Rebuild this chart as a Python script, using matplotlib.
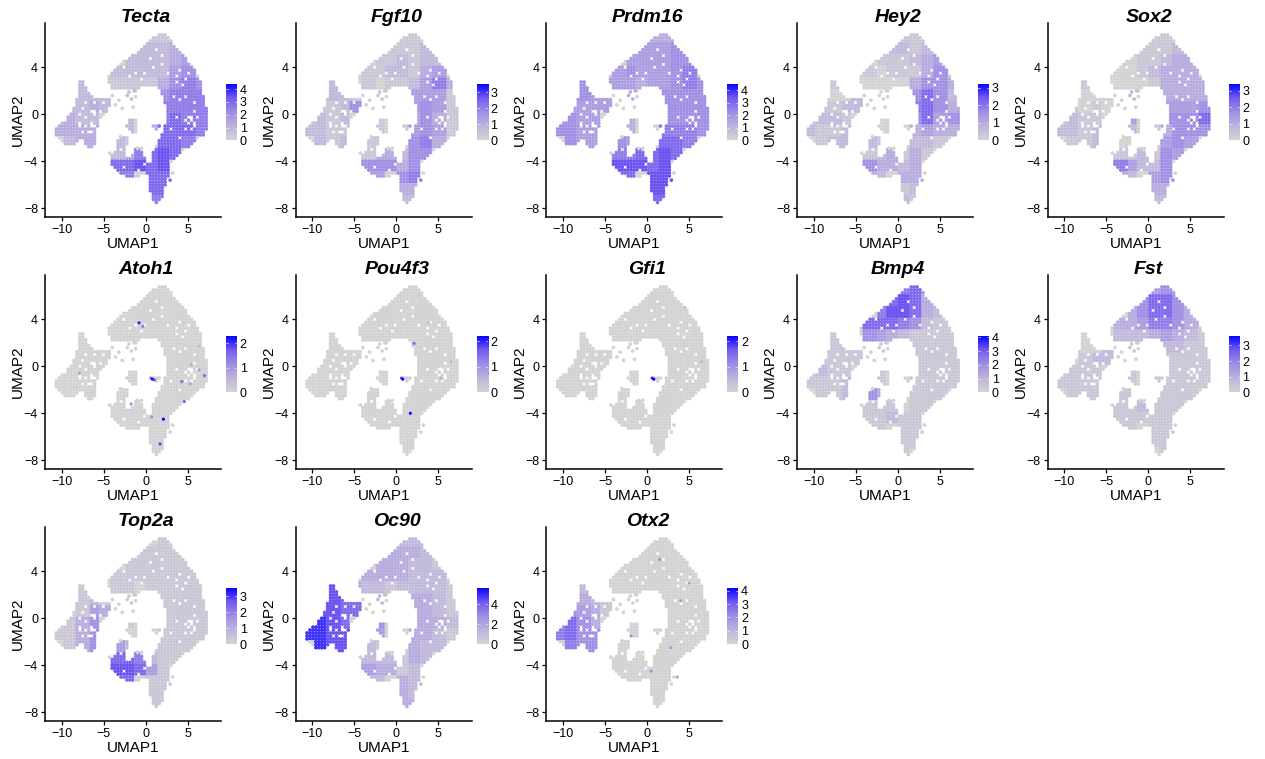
import matplotlib
matplotlib.use("Agg")
import matplotlib.pyplot as plt
import numpy as np
from matplotlib.colors import LinearSegmentedColormap

plt.rcParams['font.family'] = ['Liberation Sans', 'DejaVu Sans']

W, H = 1265, 759

genes = ["Tecta", "Fgf10", "Prdm16", "Hey2", "Sox2",
         "Atoh1", "Pou4f3", "Gfi1", "Bmp4", "Fst",
         "Top2a", "Oc90", "Otx2"]
gene_max = [4.4, 3.5, 4.5, 3.2, 3.4, 2.3, 2.2, 2.2, 4.1, 3.6, 3.5, 5.6, 4.2]
gene_ticks = [[0, 1, 2, 3, 4], [0, 1, 2, 3], [0, 1, 2, 3, 4], [0, 1, 2, 3], [0, 1, 2, 3],
              [0, 1, 2], [0, 1, 2], [0, 1, 2], [0, 1, 2, 3, 4], [0, 1, 2, 3],
              [0, 1, 2, 3], [0, 2, 4], [0, 1, 2, 3, 4]]

# cell map, one run-length row per 0.25 of UMAP2 from 6.75 down,
# columns are 0.35 of UMAP1 from -11, "." is empty
map_rows = [
    "36. 3#", "34. 6#", "33. 8#", "32. 9#", "31. 11#", "30. 13#", "29. 15#",
    "27. 18#", "26. 20#", "24. 22#", "23. 24#", "22. 26#",
    "21. 28#", "20. 29#", "19. 31#", "19. 31#",
    "9. 2# 8. 32#", "9. 2# 9. 31#", "9. 3# 8. 10# 6. 15#",
    "9. 3# 16. 1# 8. 14#", "9. 4# 24. 14#", "9. 5# 24. 14#",
    "8. 12# 18. 14#", "8. 6# 1. 2# 1. 2# 18. 14#", "8. 12# 19. 13#",
    "7. 12# 20. 14#", "7. 7# 1. 1# 1. 2# 20. 9# 1. 4#", "6. 12# 21. 14#",
    "5. 12# 22. 7# 1. 2# 1. 3#", "5. 11# 10. 3# 10. 14#",
    "3. 6# 1. 6# 10. 3# 10. 9# 1. 4#", "2. 11# 1. 2# 9. 4# 5. 3# 1. 15#",
    "1. 14# 11. 3# 6. 1# 2. 9# 1. 5#", "1. 14# 12. 2# 9. 14#",
    "1. 14# 22. 15#", "2. 13# 8. 3# 11. 13#", "3. 6# 2. 4# 7. 4# 10. 13#",
    "4. 4# 3. 4# 7. 4# 10. 12#", "12. 2# 8. 3# 10. 12#", "22. 3# 3. 2# 5. 10#",
    "21. 4# 3. 3# 3. 10#", "20. 5# 2. 4# 3. 9#", "20. 12# 2. 8#", "20. 12# 2. 7#",
    "20. 20#", "21. 19#", "22. 18#", "23. 17#", "25. 5# 3. 7#",
    "33. 6#", "33. 6#", "33. 6#", "33. 5#", "33. 5#", "34. 4#", "34. 4#", "34. 3#", "35. 1#",
]

# white gaps inside the cloud and stray cells around it
hole_x = [-8.0, -7.4, -7.0, -6.6, -6.2, -7.8, -7.1, -6.5, -6.0, -7.5, -6.8, -6.3, -7.2,
          4.6, 5.0, 5.5, 5.9, 4.9, 5.4, 3.6, 4.1, 4.6, 5.0, 3.8, 4.4, 3.4, 4.0, 4.7,
          -1.8, -1.2, -0.6, -0.1, -2.6, 0.4, 1.2, 2.0, 0.9, 1.8, 2.6,
          -2.5, -1.0, -0.2, -3.0, 4.0, 3.0, 3.6, 5.8]
hole_y = [0.0, 0.5, -0.2, 0.3, 0.0, -0.8, -0.9, -0.7, -0.9, -1.4, -1.5, -1.6, 0.9,
          -0.5, -0.8, -0.2, -0.9, -1.3, -0.4, 3.3, 3.7, 3.0, 3.4, 2.7, 2.5, 1.6, 1.2, 1.5,
          3.2, 3.4, 3.0, 3.5, 3.9, 4.8, 5.4, 5.0, 3.9, 4.2, 3.6,
          -4.5, -4.8, -4.2, -3.1, -2.0, -1.2, -0.3, 1.0]
stray_x = [-4.0, -3.2, -2.8, -3.6, -2.2, -1.7, -1.5, -1.4, -2.0, -1.2, -3.0, 3.2, 2.9, -4.3, -1.0, -0.5]
stray_y = [1.6, 1.2, 0.5, 0.8, 1.6, 1.3, 0.6, 2.0, 1.9, 1.5, -1.9, -5.0, -5.6, -3.3, -2.9, -2.9]

# expression tone per patch of the map, 0 grey to 9 blue. Patches are 1.4 wide from
# UMAP1 -11 (13 columns), 1 high from UMAP2 7 down (15 rows)
tones = {
    "Tecta": ["0000000011100", "0000000222300", "0000002222340", "0000022222450",
              "0020111113565", "0022202005666", "0223200006666", "2322002036766",
              "3333002037776", "0233021007760", "0000023678700", "0000077878000",
              "0000066077000", "0000000077000", "0000000066000"],
    "Fgf10": ["0000000011000", "0000000111200", "0000001121220", "0000011221340",
              "0020010112463", "0022101004441", "0112500004541", "1212001033531",
              "2211001014541", "0212011005630", "0000013325500", "0000055535000",
              "0000044056000", "0000000033000", "0000000022000"],
    "Prdm16": ["0000000033300", "0000000444500", "0000004444550", "0000045444560",
               "0050444344565", "0054403005555", "0444400005555", "4544003035555",
               "5544003006665", "0544054007760", "0000066778700", "0000088878000",
               "0000077088000", "0000000088000", "0000000077000"],
    "Hey2": ["0000000011100", "0000000221200", "0000001112340", "0000010111350",
             "0010000003553", "0000200005752", "0112200006753", "1221000005745",
             "2112000003433", "0122021002210", "0000012313100", "0000053323000",
             "0000032033000", "0000000012000", "0000000021000"],
    "Sox2": ["0000000011000", "0000000111200", "0000000112330", "0000000123330",
             "0010000013333", "0000002003333", "0101000004445", "1211004035557",
             "2212002013555", "0112000004540", "0000011215400", "0000064225000",
             "0000032045000", "0000000033000", "0000000022000"],
    "Bmp4": ["0000000067500", "0000000787300", "0000006887320", "0000077765210",
             "0010054321111", "0011101001111", "0111100001111", "1211001001111",
             "1112001001111", "0112053001110", "0000011101100", "0000011211000",
             "0000011011000", "0000000011000", "0000000010000"],
    "Fst": ["0000000045400", "0000000577500", "0000003577530", "0000033466530",
            "0000022234321", "0000201002211", "0012200001111", "1111001011111",
            "1111001011111", "0111011001110", "0000011211100", "0000011111000",
            "0000011011000", "0000000011000", "0000000001000"],
    "Top2a": ["0000000001000", "0000000111100", "0000001111110", "0000011111110",
              "0010011011111", "0012001001111", "0014300001111", "1135001011111",
              "1135000001111", "0135042001110", "0000077621100", "0000088741000",
              "0000077011000", "0000000011000", "0000000011000"],
    "Oc90": ["0000000022200", "0000000333200", "0000003332210", "0000033332220",
             "0080322122221", "0087702003321", "0887700003321", "9987005003332",
             "9988004003321", "0988021003220", "0000022213200", "0000043312000",
             "0000022032000", "0000000032000", "0000000033000"],
    "Otx2": ["0000000000000", "0000000000000", "0000000000000", "0000000000000",
             "0020000000000", "0032100000000", "0543100000000", "5753000000000",
             "6755000000000", "0655000000000", "0000000000000", "0000000000000",
             "0000000000000", "0000000000000", "0000000000000"],
}

# single cells: x, y, share of maximum
spot_x = {"Atoh1": [-0.8, -0.35, -7.9, -1.75, 0.7, 2.1, 1.7, 4.6, 4.3, 5.3, 6.35, 7.0, 5.4, 6.35, 0.6, 0.8, 1.0],
          "Pou4f3": [0.6, 0.75, 1.65, 2.1, 3.8, 5.3, 6.5],
          "Gfi1": [0.6, 0.8, 4.5, 6.5],
          "Otx2": [1.5, 4.0, -1.9, 2.8, 5.0, 0.5, 3.6]}
spot_y = {"Atoh1": [3.7, 3.4, -0.6, -3.2, -4.3, -4.5, -6.6, -3.0, -1.3, -1.5, -0.3, -0.8, 0.15, 1.7, -1.0, -1.1, -1.15],
          "Pou4f3": [-1.0, -1.1, -4.0, 1.95, 3.7, -1.0, 0.4],
          "Gfi1": [-1.0, -1.1, 5.0, 0.4],
          "Otx2": [5.0, 1.5, -1.5, -2.5, 3.0, -4.5, -5.0]}
spot_v = {"Atoh1": [.9, .6, .4, .5, .5, 1.0, .8, .7, .7, .4, .4, .7, .3, .2, .7, 1.0, .8],
          "Pou4f3": [.8, 1.0, 1.0, .7, .2, .3, .2],
          "Gfi1": [.9, 1.0, .2, .2],
          "Otx2": [.5, .4, .5, .4, .4, .5, .4]}

cmap = LinearSegmentedColormap.from_list(
    "feat", ["#d3d3d3", "#bdb2de", "#9f8ce6", "#7259f0", "#0000ff"])


def decode_row(text):
    cells = ""
    for run in text.split():
        cells += run[-1] * int(run[:-1])
    return cells


cell_x, cell_y = [], []
for i, row in enumerate(map_rows):
    for j, g in enumerate(decode_row(row)):
        if g != ".":
            cell_x.append(-11 + 0.35 * j)
            cell_y.append(6.75 - 0.25 * i)
cell_x, cell_y = np.array(cell_x), np.array(cell_y)

# take out the cell nearest to each gap
keep = np.ones(len(cell_x), dtype=bool)
for hx, hy in zip(hole_x, hole_y):
    keep[np.argmin(((cell_x - hx) / 0.35) ** 2 + ((cell_y - hy) / 0.25) ** 2)] = False
cell_x = np.concatenate([cell_x[keep], stray_x])
cell_y = np.concatenate([cell_y[keep], stray_y])

# which patch each cell sits in
patch_c = np.clip(((cell_x + 11) / 1.4).astype(int), 0, 12)
patch_r = np.clip(((7 - cell_y) / 1.0).astype(int), 0, 14)

fig = plt.figure(figsize=(W / 100, H / 100), dpi=100)
col_left = [45, 295.7, 546.3, 797, 1047.7]
row_bottom = [217, 469, 721]

for n, gene in enumerate(genes):
    r, c = divmod(n, 5)
    left, bottom = col_left[c], row_bottom[r]
    ax = fig.add_axes([left / W, 1 - bottom / H, 176 / W, 194 / H])
    if gene in tones:
        grid = np.array([[int(d) for d in row] for row in tones[gene]]) / 10.5
        vals = grid[patch_r, patch_c]
    else:
        vals = np.zeros(len(cell_x))
    ax.scatter(cell_x, cell_y, c=vals, cmap=cmap, vmin=0, vmax=1, s=7, linewidths=0)
    if gene in spot_x:
        ax.scatter(spot_x[gene], spot_y[gene], c=spot_v[gene], cmap=cmap, vmin=0, vmax=1,
                   s=5, linewidths=0)
    ax.set_xlim(-12, 8.96)
    ax.set_ylim(-8.74, 7.77)
    ax.set_xticks([-10, -5, 0, 5])
    ax.set_xticklabels(["\u221210", "\u22125", "0", "5"])
    ax.set_yticks([-8, -4, 0, 4])
    ax.set_yticklabels(["\u22128", "\u22124", "0", "4"])
    ax.tick_params(labelsize=9, length=3, width=0.9, pad=2, colors="black")
    for s in ["top", "right"]:
        ax.spines[s].set_visible(False)
    for s in ["left", "bottom"]:
        ax.spines[s].set_linewidth(1.1)
    ax.set_xlabel("UMAP1", fontsize=11, labelpad=1)
    ax.set_ylabel("UMAP2", fontsize=11, labelpad=-1)
    fig.text((left + 101) / W, 1 - (bottom - 199.5) / H, gene, fontsize=14, fontweight="bold",
             fontstyle="italic", ha="center", va="center")

    cb = fig.add_axes([(left + 181) / W, 1 - (bottom - 75) / H, 11 / W, 58 / H])
    cb.imshow(np.linspace(1, 0, 64)[:, None], cmap=cmap, aspect="auto",
              extent=[0, 1, 0, gene_max[n]])
    cb.set_xticks([])
    cb.yaxis.tick_right()
    cb.set_yticks(gene_ticks[n])
    cb.tick_params(labelsize=9, length=0, pad=2)
    for t in gene_ticks[n]:
        cb.plot([0, 0.2], [t, t], color="white", lw=0.4)
        cb.plot([0.8, 1], [t, t], color="white", lw=0.4)
    cb.set_xlim(0, 1)
    cb.set_ylim(-0.03 * gene_max[n], gene_max[n])
    for s in cb.spines.values():
        s.set_visible(False)

fig.savefig("out.png", dpi=100)
